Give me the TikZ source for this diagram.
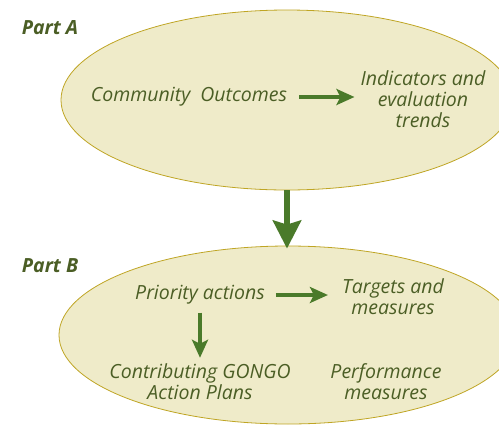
\documentclass[tikz,border=0pt]{standalone}
\usepackage{fontspec}
\setmainfont{Open Sans}
\usetikzlibrary{shapes.geometric,arrows.meta}

\definecolor{leaf}{HTML}{4A7A2A}
\definecolor{ink}{HTML}{4B5E25}
\definecolor{cream}{HTML}{EFEBC9}
\definecolor{olive}{HTML}{BFA524}

\tikzset{
	part/.style={draw=olive, line width=0.8pt, fill=cream, ellipse},
	item/.style={text=ink, font=\itshape\fontsize{19.5}{21}\selectfont, align=center, inner sep=0pt},
	title/.style={text=ink, font=\bfseries\itshape\fontsize{19.5}{21}\selectfont, inner sep=0pt},
	flow/.style={draw=leaf, line width=3.5pt, -{Stealth[length=18pt,width=16pt,inset=4pt]}},
}

\begin{document}
\begin{tikzpicture}[x=1pt, y=-1pt]
\useasboundingbox (0,0) rectangle (499,424);
\clip (0,0) rectangle (499,424);

\node [part, minimum width=452pt, minimum height=180pt] (partA) at (287,100) {};
\node [part, minimum width=458pt, minimum height=178pt] (partB) at (288,335) {};

\node [title] (labelA) at (50,28) {Part A};
\node [title] (labelB) at (50,266) {Part B};

% Part A
\node [item] (outcomes) at (189,97) {Community\ \ Outcomes};
\node [item] (indicators) at (423,99) {Indicators and\\evaluation\\trends};
\draw [flow, shorten <=12pt, shorten >=6pt] (outcomes.east) -- (outcomes.east -| indicators.west);

% Part B
\node [item] (priority) at (200,295) {Priority actions};
\node [item] (targets) at (393,297) {Targets and\\measures};
\node [item] (gongo) at (200,382) {Contributing GONGO\\Action Plans};
\node [item] (perf) at (386,382) {Performance\\measures};
\draw [flow, shorten <=11pt, shorten >=14pt] (priority.east) -- (priority.east -| targets.west);
\draw [flow, shorten <=8pt, shorten >=6pt] (priority.south) -- (gongo.north);

\draw [draw=leaf, line width=6pt, -{Stealth[length=28pt,width=28pt,inset=4pt]}] (partA.south) -- ([yshift=-3pt]partA.south |- partB.north);
\end{tikzpicture}
\end{document}
